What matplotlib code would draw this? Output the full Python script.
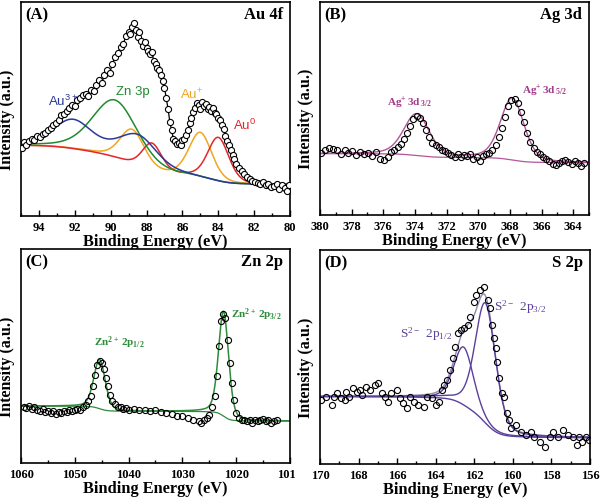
import numpy as np
import matplotlib
matplotlib.use("Agg")
import matplotlib.pyplot as plt
from matplotlib.ticker import MultipleLocator
from matplotlib.transforms import Bbox

plt.rcParams['font.family'] = ['Liberation Serif', 'DejaVu Serif']

# ---------------- Panel A : Au 4f ----------------
a_be = [94.95, 94.85, 94.7, 94.55, 94.4, 94.25, 94.1, 93.95, 93.8, 93.65, 93.5, 93.35,
        93.2, 93.05, 92.9, 92.75, 92.6, 92.45, 92.3, 92.15, 92.0, 91.85, 91.7, 91.55,
        91.4, 91.25, 91.1, 90.95, 90.8, 90.65, 90.5, 90.35, 90.2, 90.05, 89.9, 89.75,
        89.6, 89.45, 89.3, 89.15, 89.0, 88.9, 88.8, 88.7, 88.6, 88.5, 88.4, 88.3, 88.2,
        88.1, 88.0, 87.9, 87.8, 87.7, 87.6, 87.5, 87.4, 87.3, 87.2, 87.1, 87.0, 86.9,
        86.8, 86.7, 86.6, 86.5, 86.4, 86.3, 86.2, 86.1, 86.0, 85.9, 85.8, 85.7, 85.6,
        85.5, 85.4, 85.3, 85.2, 85.1, 85.0, 84.9, 84.8, 84.7, 84.6, 84.5, 84.4, 84.3,
        84.2, 84.1, 84.0, 83.9, 83.8, 83.7, 83.6, 83.5, 83.4, 83.3, 83.2, 83.1, 83.0,
        82.85, 82.7, 82.55, 82.4, 82.25, 82.1, 81.95, 81.8, 81.65, 81.5, 81.35, 81.2,
        81.05, 80.9, 80.75, 80.6, 80.45, 80.3, 80.15, 80.05]
a_int = [32.0, 34.5, 33.0, 35.0, 36.0, 35.5, 37.5, 37.0, 38.5, 39.0, 40.0, 41.0,
         42.5, 43.5, 45.0, 47.0, 47.5, 49.0, 50.5, 52.0, 51.5, 54.0, 55.0, 56.5,
         57.0, 56.0, 59.0, 58.5, 61.0, 63.5, 62.0, 66.0, 68.0, 67.0, 71.0, 74.5,
         76.0, 79.0, 80.5, 84.0, 86.0, 85.0, 88.5, 90.0, 87.0, 83.5, 86.0, 82.0, 79.5,
         81.5, 78.5, 77.0, 75.5, 76.5, 72.5, 71.0, 69.0, 68.0, 66.0, 63.0, 60.0, 55.0,
         50.0, 44.0, 40.0, 36.0, 35.0, 33.5, 34.0, 33.0, 35.5, 36.0, 38.0, 40.0, 43.5,
         46.0, 48.5, 50.5, 53.0, 52.0, 50.0, 53.5, 51.5, 52.5, 50.0, 51.0, 49.0, 50.5,
         48.0, 47.5, 46.0, 45.0, 42.5, 40.5, 37.5, 35.0, 33.0, 31.0, 28.5, 26.5, 24.5,
         22.5, 21.0, 19.5, 18.0, 17.5, 16.5, 16.0, 15.5, 15.0, 16.0, 14.5, 15.0,
         13.5, 14.0, 15.0, 12.5, 14.5, 13.0, 11.5, 14.5]
# fitted components: (center, height, fwhm)
a_au3 = [(92.1, 13.3, 2.6), (88.45, 14.4, 2.6)]
a_zn3p = [(89.75, 27.0, 3.0)]
a_au1 = [(88.8, 16.0, 1.6), (85.0, 21.0, 1.5)]
a_au0 = [(87.7, 12.8, 1.3), (84.0, 20.6, 1.4)]
a_bg = (33.0, 14.6)   # background level at high / low binding energy

# ---------------- Panel B : Ag 3d ----------------
b_be = [379.95, 379.7, 379.45, 379.2, 378.95, 378.7, 378.45, 378.2, 377.95, 377.7,
        377.45, 377.2, 376.95, 376.7, 376.45, 376.2, 375.95, 375.7, 375.5, 375.3,
        375.1, 374.9, 374.7, 374.5, 374.3, 374.1, 373.9, 373.7, 373.5, 373.3, 373.1,
        372.9, 372.7, 372.5, 372.3, 372.1, 371.9, 371.7, 371.5, 371.3, 371.1, 370.9,
        370.7, 370.5, 370.3, 370.1, 369.9, 369.7, 369.5, 369.3, 369.1, 368.9, 368.7,
        368.5, 368.3, 368.1, 367.9, 367.7, 367.5, 367.3, 367.1, 366.9, 366.7, 366.5,
        366.3, 366.1, 365.9, 365.7, 365.5, 365.3, 365.1, 364.9, 364.7, 364.5, 364.3,
        364.1, 363.9, 363.7, 363.5, 363.3]
b_int = [29.0, 30.5, 31.5, 31.0, 30.5, 28.5, 30.5, 29.0, 30.0, 28.0,
         29.5, 28.5, 29.0, 27.5, 29.5, 26.5, 26.0, 27.0, 29.5, 30.5,
         32.0, 33.5, 35.5, 38.5, 42.0, 45.0, 46.5, 45.5, 43.0, 40.0, 36.5,
         34.0, 33.0, 32.0, 30.5, 30.0, 29.0, 28.0, 27.0, 28.5, 27.0, 28.0,
         27.5, 28.5, 26.5, 27.0, 25.5, 27.5, 28.5, 29.0, 30.5, 33.0, 36.5,
         41.0, 46.0, 51.0, 54.0, 54.5, 52.5, 48.5, 43.5, 38.5, 34.5, 31.5,
         29.5, 28.5, 27.0, 26.5, 25.5, 24.0, 23.5, 24.5, 25.5, 26.0, 25.0,
         24.0, 25.5, 24.5, 23.0, 24.5]
b_peaks = [(373.9, 19.5, 1.9), (367.85, 29.0, 1.75)]
b_bg = (28.8, 24.6)

# ---------------- Panel C : Zn 2p ----------------
c_be = [1059.5, 1059.0, 1058.5, 1058.0, 1057.5, 1057.0, 1056.5, 1056.0, 1055.5, 1055.0,
        1054.5, 1054.0, 1053.5, 1053.0, 1052.5, 1052.0, 1051.5, 1051.0, 1050.5, 1050.0,
        1049.5, 1049.0, 1048.5, 1048.0, 1047.5, 1047.0, 1046.6, 1046.2, 1045.8, 1045.4,
        1045.0, 1044.6, 1044.2, 1043.8, 1043.4, 1043.0, 1042.5, 1042.0, 1041.5, 1041.0,
        1040.5, 1040.0, 1039.0, 1038.0, 1037.0, 1036.0, 1035.0, 1034.0, 1033.0, 1032.0,
        1031.0, 1030.0, 1029.0, 1028.0, 1027.0, 1026.5, 1026.0, 1025.5, 1025.0, 1024.5,
        1024.0, 1023.6, 1023.2, 1022.8, 1022.4, 1022.0, 1021.6, 1021.2, 1020.8, 1020.4,
        1020.0, 1019.5, 1019.0, 1018.5, 1018.0, 1017.5, 1017.0, 1016.5, 1016.0, 1015.5,
        1015.0, 1014.5, 1014.0, 1013.5, 1013.0, 1012.5]
c_int = [26.4, 25.7, 26.8, 25.2, 26.1, 24.9, 24.1, 25.2, 23.6, 24.4,
         23.3, 24.1, 23.0, 23.8, 23.3, 24.1, 23.6, 24.6, 24.1, 24.9,
         25.2, 24.6, 26.4, 27.2, 28.8, 31.1, 35.8, 41.3, 46.0, 47.6,
         46.8, 43.7, 39.7, 35.8, 31.9, 28.8, 27.7, 26.4, 26.1, 25.2,
         25.7, 24.9, 25.2, 24.6, 24.9, 24.1, 24.6, 23.6, 23.3, 23.0,
         22.1, 21.8, 21.0, 20.2, 19.4, 18.6, 19.9, 21.0, 22.5, 26.4,
         31.1, 40.5, 54.6, 66.4, 69.5, 67.9, 57.7, 46.8, 37.4, 29.6,
         23.3, 21.0, 19.9, 20.2, 19.4, 19.9, 18.9, 20.2, 19.4, 19.9,
         20.5, 19.4, 19.9, 18.9, 19.4, 20.2]
c_peaks = [(1045.4, 23.0, 2.5), (1022.35, 49.0, 2.2)]
c_bg = (26.6, 19.6)

# ---------------- Panel D : S 2p ----------------
d_be = [169.95, 169.7, 169.4, 169.25, 169.1, 168.9, 168.7, 168.65, 168.5, 168.3,
        168.1, 167.95, 167.8, 167.6, 167.4, 167.15, 167.0, 166.8, 166.65, 166.45,
        166.3, 166.0, 165.85, 165.7, 165.5, 165.35, 165.15, 164.9, 164.6, 164.45,
        164.2, 164.0, 163.85, 163.7, 163.55, 163.4, 163.25, 163.1, 162.98, 162.86,
        162.7, 162.55, 162.35, 162.2, 162.0, 161.9, 161.7, 161.5, 161.3, 161.2,
        161.1, 161.0, 160.9, 160.8, 160.7, 160.55, 160.45, 160.3, 160.2, 160.1,
        159.85, 159.6, 159.3, 159.05, 158.9, 158.6, 158.35, 158.1, 157.9, 157.65,
        157.4, 157.15, 156.9, 156.7, 156.55, 156.4, 156.2, 156.05]
d_int = [29.9, 31.5, 27.6, 31.5, 33.0, 30.7, 29.9, 33.8, 31.5, 35.4,
         33.8, 34.6, 32.2, 36.1, 34.6, 36.9, 37.7, 33.0, 31.5, 29.1,
         33.0, 34.6, 30.7, 28.3, 26.0, 31.5, 29.1, 27.6, 26.8, 31.5,
         30.7, 27.6, 29.1, 34.6, 36.9, 39.3, 43.9, 49.4, 54.8, 61.1,
         62.6, 63.4, 65.0, 68.8, 75.9, 79.0, 81.3, 82.6, 76.6, 72.7,
         65.0, 58.7, 54.0, 47.8, 40.0, 33.0, 31.5, 23.7, 20.6, 16.8,
         18.2, 15.1, 13.6, 15.1, 12.8, 10.4, 8.1, 12.8, 15.1, 12.8,
         15.9, 13.6, 12.8, 8.9, 12.8, 10.4, 12.8, 11.2]
d_peaks = [(162.55, 27.0, 1.2), (161.42, 56.0, 1.25)]
d_bg = (31.5, 12.3)


def pv(x, c, h, w, eta=0.3):
    s = w / 2.3548
    g = np.exp(-0.5 * ((x - c) / s) ** 2)
    lo = 1.0 / (1.0 + ((x - c) / (w / 2)) ** 2)
    return h * ((1 - eta) * g + eta * lo)


def shirley(x, peaks, hi, lo):
    xs = np.sort(x)
    tot = sum(pv(xs, *p) for p in peaks)
    cum = np.concatenate([[0], np.cumsum(0.5 * (tot[1:] + tot[:-1]) * np.diff(xs))])
    frac = cum / cum[-1]
    return np.interp(x, xs, lo + (hi - lo) * frac)


W, H = 600, 498
fig = plt.figure(figsize=(W / 100, H / 100), dpi=100)
MS = 4.4


def make_ax(x0, y0, x1, y1):
    return fig.add_axes([x0 / W, 1 - y1 / H, (x1 - x0) / W, (y1 - y0) / H])


def style(ax, xlim, major, minor, label, title):
    ax.set_xlim(*xlim)
    ax.set_ylim(0, 100)
    ax.set_yticks([])
    ax.xaxis.set_major_locator(MultipleLocator(major))
    ax.xaxis.set_minor_locator(MultipleLocator(minor))
    ax.tick_params(axis='x', which='major', direction='in', length=4, width=1.0,
                   labelsize=9, pad=4)
    ax.tick_params(axis='x', which='minor', direction='in', length=2.5, width=1.0)
    for t in ax.get_xticklabels():
        t.set_fontweight('bold')
    for sp in ax.spines.values():
        sp.set_linewidth(1.2)
    ax.set_xlabel('Binding Energy (eV)', fontsize=11.8, fontweight='bold', labelpad=0)
    ax.set_ylabel('Intensity (a.u.)', fontsize=11.5, fontweight='bold')
    ax.yaxis.set_label_coords(-0.022, 0.45)
    ax.text(0.015, 0.975, label, transform=ax.transAxes, fontsize=12, fontweight='bold',
            ha='left', va='top')
    ax.text(0.975, 0.975, title, transform=ax.transAxes, fontsize=12, fontweight='bold',
            ha='right', va='top')


# ---- A
axA = make_ax(21, 2, 290, 216)
xa = np.linspace(95, 80, 600)
allA = a_au3 + a_zn3p + a_au1 + a_au0
bgA = shirley(xa, allA, *a_bg)
axA.plot(a_be, a_int, '-', color='black', lw=0.9, zorder=3)
axA.plot(a_be, a_int, 'o', mfc='white', mec='black', ms=MS, mew=0.8, zorder=4)
comps = [(a_au1, '#f2a51f'), (a_au0, '#e3262b'), (a_zn3p, '#1f8a2f'), (a_au3, '#2b3a97')]
for peaks, col in comps:
    axA.plot(xa, bgA + sum(pv(xa, *p) for p in peaks), color=col, lw=1.1, zorder=2)
sans = ['Liberation Sans', 'DejaVu Sans']
axA.text(92.65, 51.5, r'$\mathregular{Au^{3+}}$', color='#2b3a97', fontsize=9.5,
         family=sans, ha='center')
axA.text(88.75, 56.5, 'Zn 3p', color='#1f8a2f', fontsize=9.5, family=sans, ha='center')
axA.text(85.5, 54.5, r'$\mathregular{Au^{+}}$', color='#f2a51f', fontsize=9.5, family=sans,
         ha='center')
axA.text(82.55, 40, r'$\mathregular{Au^{0}}$', color='#e3262b', fontsize=9.5, family=sans,
         ha='center')
style(axA, (95, 80), 2, 1, '(A)', 'Au 4f')

# ---- B
axB = make_ax(320, 2, 589, 215)
xb = np.linspace(380, 363, 600)
bgB = shirley(xb, b_peaks, *b_bg)
axB.plot(xb, bgB, color='#b5559a', lw=0.9, zorder=2)
axB.plot(xb, bgB + sum(pv(xb, *p) for p in b_peaks), color='#b5559a', lw=1.0, zorder=2)
axB.plot(b_be, b_int, 'o', mfc='none', mec='black', ms=MS, mew=0.8, zorder=3)
axB.text(374.3, 51, r'$\mathregular{Ag^{+}\,3d\,_{3/2}}$', color='#a23c8c', fontsize=8,
         fontweight='bold', ha='center')
axB.text(365.8, 56.7, r'$\mathregular{Ag^{+}\,3d\,_{5/2}}$', color='#a23c8c', fontsize=8,
         fontweight='bold', ha='center')
style(axB, (380, 363), 2, 1, '(B)', 'Ag 3d')

# ---- C
axC = make_ax(21, 249, 290, 463)
xc = np.linspace(1060, 1010, 800)
bgC = shirley(xc, c_peaks, *c_bg)
axC.plot(xc, bgC, color='#2e8b3a', lw=0.9, zorder=2)
axC.plot(xc, bgC + sum(pv(xc, *p) for p in c_peaks), color='#2e8b3a', lw=1.1, zorder=2)
axC.plot(c_be, c_int, 'o', mfc='none', mec='black', ms=MS, mew=0.8, zorder=3)
axC.text(1041.7, 54.6, r'$\mathregular{Zn^{2+}\,2p_{1/2}}$', color='#2e8b3a', fontsize=8,
         fontweight='bold', ha='center')
axC.text(1016.2, 68, r'$\mathregular{Zn^{2+}\,2p_{3/2}}$', color='#2e8b3a', fontsize=8,
         fontweight='bold', ha='center')
style(axC, (1060, 1010), 10, 5, '(C)', 'Zn 2p')

# ---- D
axD = make_ax(320, 250, 590, 464)
xd = np.linspace(170, 156, 600)
bgD = shirley(xd, d_peaks, *d_bg)
axD.plot(xd, bgD + sum(pv(xd, *p) for p in d_peaks), color='#9088ad', lw=1.0, zorder=2)
axD.plot(xd, bgD, color='#5b3f9c', lw=1.0, zorder=2)
for p in d_peaks:
    axD.plot(xd, bgD + pv(xd, *p), color='#5b3f9c', lw=1.0, zorder=2)
axD.plot(d_be, d_int, 'o', mfc='none', mec='black', ms=MS, mew=0.8, zorder=3)
axD.text(164.5, 59, r'$\mathregular{S^{2-}\ 2p_{1/2}}$', color='#5b3f9c', fontsize=9.5,
         ha='center')
axD.text(159.6, 71.5, r'$\mathregular{S^{2-}\ 2p_{3/2}}$', color='#5b3f9c', fontsize=9.5,
         ha='center')
style(axD, (170, 156), 2, 1, '(D)', 'S 2p')

fig.canvas.draw()
for t in axC.get_xticklabels():
    if t.get_text() in ('1010', '1,010'):
        t.set_clip_box(Bbox.from_extents(0, 0, 295, H))
        t.set_clip_on(True)

fig.savefig('out.png', dpi=100)
